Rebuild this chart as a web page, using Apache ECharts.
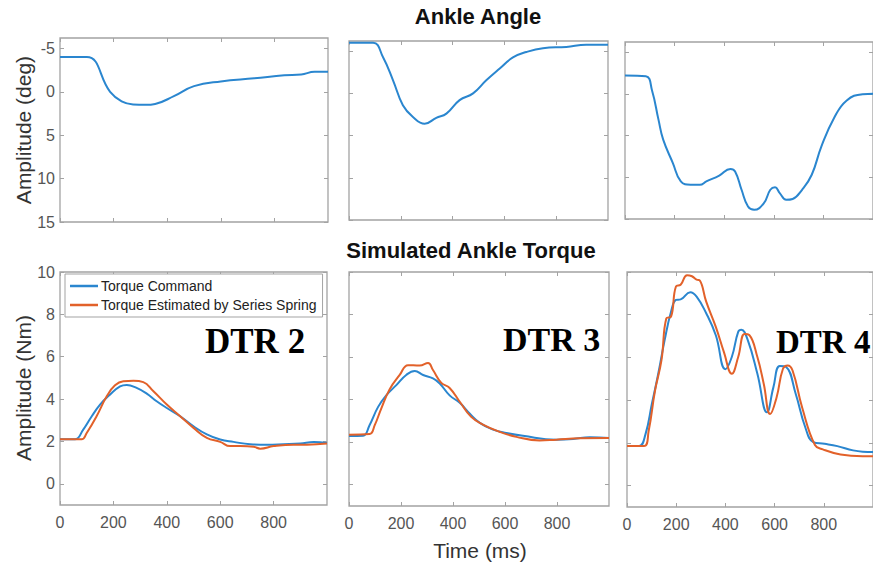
<!DOCTYPE html>
<html><head><meta charset="utf-8">
<script src="https://cdn.jsdelivr.net/npm/echarts@6/dist/echarts.min.js"></script>
<style>html,body{margin:0;padding:0;background:#fff}#c{width:873px;height:564px}</style>
</head><body><div id="c"></div>
<script>
// ---------- DATA ----------
const xTicks = [0, 200, 400, 600, 800];
const angleTicks = [-5, 0, 5, 10, 15];
const torqueTicks = [0, 2, 4, 6, 8, 10];

// Ankle angle (deg), DTR 2
const ang2T = [0, 100, 187, 230, 273, 320, 355, 425, 500, 600, 725, 837, 900, 950, 1000];
const ang2V = [-4.0, -4.0, 0.0, 1.1, 1.45, 1.5, 1.4, 0.5, -0.65, -1.2, -1.55, -1.9, -2.0, -2.3, -2.3];
// Ankle angle, DTR 3
const ang3T = [0, 93, 131, 170, 208, 247, 292, 337, 376, 427, 479, 530, 582, 633, 685, 749, 839, 916, 1000];
const ang3V = [-6.0, -6.0, -4.3, -1.55, 1.4, 2.8, 3.6, 2.9, 2.4, 0.8, 0.0, -1.55, -2.95, -4.25, -4.9, -5.35, -5.5, -5.75, -5.75];
// Ankle angle, DTR 4
const ang4T = [0, 84, 109, 135, 154, 193, 225, 264, 302, 328, 380, 425, 444, 470, 496, 521, 560, 586, 605, 624, 650, 676, 714, 753, 792, 843, 894, 958, 1000];
const ang4V = [-2.2, -2.1, -0.4, 3.1, 5.5, 8.3, 10.5, 10.9, 10.9, 10.5, 9.8, 9.0, 9.3, 11.5, 13.5, 13.9, 13.1, 11.5, 11.2, 11.9, 12.7, 12.6, 11.5, 9.7, 6.3, 2.9, 0.8, 0.05, 0.0];

// Torque command / estimated (Nm), DTR 2
const cmd2T = [0, 56, 87, 119, 150, 187, 225, 250, 287, 325, 362, 400, 450, 500, 550, 600, 650, 712, 775, 837, 900, 950, 1000];
const cmd2V = [2.1, 2.1, 2.56, 3.19, 3.74, 4.21, 4.6, 4.67, 4.53, 4.26, 3.9, 3.58, 3.19, 2.72, 2.33, 2.09, 1.98, 1.87, 1.85, 1.87, 1.9, 1.97, 1.93];
const est2T = [0, 81, 100, 137, 175, 206, 237, 275, 312, 350, 400, 450, 500, 550, 600, 637, 675, 725, 750, 800, 875, 925, 1000];
const est2V = [2.1, 2.1, 2.4, 3.19, 4.13, 4.65, 4.84, 4.86, 4.8, 4.37, 3.74, 3.19, 2.64, 2.17, 1.98, 1.78, 1.78, 1.75, 1.66, 1.78, 1.85, 1.85, 1.9];
// DTR 3
const cmd3T = [0, 54, 79, 112, 144, 182, 220, 253, 285, 323, 349, 387, 426, 464, 503, 554, 605, 669, 797, 862, 926, 1000];
const cmd3V = [2.29, 2.3, 2.8, 3.66, 4.21, 4.68, 5.16, 5.35, 5.16, 5.0, 4.76, 4.2, 3.85, 3.35, 2.91, 2.59, 2.43, 2.3, 2.12, 2.15, 2.23, 2.2];
const est3T = [0, 79, 99, 124, 156, 195, 227, 272, 304, 323, 355, 387, 426, 470, 515, 579, 644, 733, 797, 887, 1000];
const est3V = [2.35, 2.38, 2.8, 3.58, 4.48, 5.16, 5.62, 5.6, 5.72, 5.39, 4.79, 4.55, 3.9, 3.19, 2.83, 2.49, 2.25, 2.08, 2.12, 2.18, 2.2];
// DTR 4
const cmd4T = [0, 49, 75, 101, 127, 153, 179, 199, 218, 257, 283, 322, 361, 400, 426, 452, 465, 491, 530, 569, 595, 621, 647, 686, 725, 757, 803, 855, 919, 958, 1000];
const cmd4V = [1.85, 1.85, 2.4, 3.82, 5.24, 6.81, 8.14, 8.69, 8.72, 9.05, 8.85, 8.07, 7.04, 5.45, 6.02, 7.2, 7.3, 6.81, 5.24, 3.43, 4.6, 5.6, 5.55, 4.29, 2.72, 2.04, 1.96, 1.85, 1.65, 1.59, 1.58];
const est4T = [0, 69, 88, 114, 140, 160, 179, 199, 218, 244, 264, 283, 296, 322, 361, 394, 426, 452, 478, 497, 530, 556, 582, 608, 634, 653, 673, 712, 764, 796, 868, 958, 1000];
const est4V = [1.85, 1.85, 2.56, 4.45, 5.86, 7.83, 7.91, 9.32, 9.4, 9.85, 9.8, 9.64, 9.6, 8.61, 7.43, 6.25, 5.24, 6.02, 7.1, 7.05, 6.02, 4.76, 3.35, 4.13, 5.47, 5.62, 5.39, 3.66, 1.9, 1.7, 1.46, 1.38, 1.38];

// ---------- CHART ----------
const BLUE = '#2a86cf', ORANGE = '#e2612a', BOX = '#a3a3a3', LBL = '#555555';
const pairs = (t, v) => t.map((x, i) => [x, v[i]]);

const grids = [
  {left: 60, top: 38, width: 268, height: 184},
  {left: 349, top: 41, width: 259, height: 179},
  {left: 625, top: 42, width: 259, height: 177},
  {left: 60, top: 272, width: 267, height: 233},
  {left: 349, top: 272, width: 260, height: 234},
  {left: 627, top: 272, width: 257, height: 235}
].map(g => Object.assign({show: true, borderColor: BOX, borderWidth: 1.3, backgroundColor: '#fff', containLabel: false}, g));

const tickStyle = vals => ({show: true, inside: true, length: 4, lineStyle: {color: BOX}, customValues: vals});
const xAxes = [], yAxes = [];
grids.forEach((g, i) => {
  const top = i < 3;
  const yt = top ? angleTicks : torqueTicks;
  const ymin = top ? -6.2 : -1, ymax = top ? 15 : 10;
  ['bottom', 'top'].forEach(pos => xAxes.push({
    type: 'value', gridIndex: i, min: 0, max: 1000, position: pos,
    axisLine: {show: false, onZero: false}, axisTick: tickStyle(xTicks),
    axisLabel: {show: pos === 'bottom' && i >= 3, color: LBL, fontSize: 16, fontFamily: 'Liberation Sans, Arial', margin: 9, customValues: xTicks},
    splitLine: {show: false}
  }));
  ['left', 'right'].forEach(pos => yAxes.push({
    type: 'value', gridIndex: i, min: ymin, max: ymax, inverse: top, position: pos,
    axisLine: {show: false, onZero: false}, axisTick: tickStyle(yt),
    axisLabel: {show: pos === 'left' && (i === 0 || i === 3), color: LBL, fontSize: 16, fontFamily: 'Liberation Sans, Arial', margin: 5, customValues: yt},
    splitLine: {show: false}
  }));
});

const lineS = (name, idx, data, color) => ({
  type: 'line', name, xAxisIndex: idx * 2, yAxisIndex: idx * 2, data, showSymbol: false, symbol: 'none',
  smooth: 0.45, clip: true,
  lineStyle: {color, width: 2}, itemStyle: {color}, animation: false
});

const series = [
  lineS('Ankle Angle', 0, pairs(ang2T, ang2V), BLUE),
  lineS('Ankle Angle', 1, pairs(ang3T, ang3V), BLUE),
  lineS('Ankle Angle', 2, pairs(ang4T, ang4V), BLUE),
  lineS('Torque Command', 3, pairs(cmd2T, cmd2V), BLUE),
  lineS('Torque Estimated by Series Spring', 3, pairs(est2T, est2V), ORANGE),
  lineS('Torque Command', 4, pairs(cmd3T, cmd3V), BLUE),
  lineS('Torque Estimated by Series Spring', 4, pairs(est3T, est3V), ORANGE),
  lineS('Torque Command', 5, pairs(cmd4T, cmd4V), BLUE),
  lineS('Torque Estimated by Series Spring', 5, pairs(est4T, est4V), ORANGE)
];

const txt = (text, x, y, o) => ({type: 'text', x, y, silent: true, z: 100,
  rotation: o.rot || 0,
  style: {text, fill: o.color || '#111', font: o.font, textAlign: o.align || 'center', textVerticalAlign: 'middle'}});

const graphic = [
  txt('Ankle Angle', 478, 16, {font: 'bold 22px "Liberation Sans", Arial'}),
  txt('Simulated Ankle Torque', 471, 250, {font: 'bold 22px "Liberation Sans", Arial'}),
  txt('Amplitude (deg)', 23, 130, {font: '21px "Liberation Sans", Arial', color: '#333', rot: Math.PI / 2}),
  txt('Amplitude (Nm)', 23, 388, {font: '21px "Liberation Sans", Arial', color: '#333', rot: Math.PI / 2}),
  txt('Time (ms)', 480, 550, {font: '21px "Liberation Sans", Arial', color: '#333'}),
  txt('DTR 2', 205, 341, {font: 'bold 35px "Liberation Serif", "Times New Roman"', align: 'left', color: '#000'}),
  txt('DTR 3', 503, 339, {font: 'bold 34px "Liberation Serif", "Times New Roman"', align: 'left', color: '#000'}),
  txt('DTR 4', 776, 342, {font: 'bold 33px "Liberation Serif", "Times New Roman"', align: 'left', color: '#000'})
];

const chart = echarts.init(document.getElementById('c'), null, {renderer: 'svg'});
chart.setOption({
  animation: false,
  backgroundColor: '#fff',
  grid: grids, xAxis: xAxes, yAxis: yAxes, series, graphic,
  legend: {
    data: ['Torque Command', 'Torque Estimated by Series Spring'],
    left: 65, top: 274, orient: 'vertical', itemGap: 3, itemWidth: 28, itemHeight: 2.5,
    padding: [4, 6, 4, 5], borderColor: BOX, borderWidth: 1, backgroundColor: '#fff',
    selectedMode: false, icon: 'rect',
    textStyle: {fontSize: 14, color: '#222', fontFamily: 'Liberation Sans, Arial', padding: [0, 0, 0, -2], lineHeight: 16}
  }
});
</script></body></html>
